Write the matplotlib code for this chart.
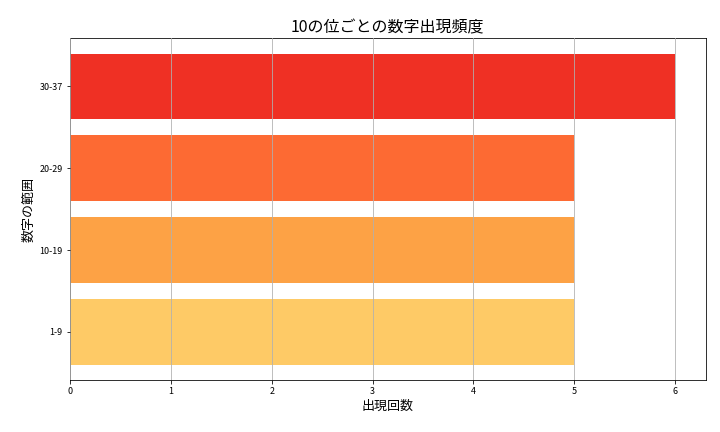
import matplotlib
matplotlib.use("Agg")
import matplotlib.pyplot as plt

plt.rcParams["font.family"] = ["Noto Sans CJK JP", "DejaVu Sans"]

categories = ["1-9", "10-19", "20-29", "30-37"]
counts = [5, 5, 5, 6]
colors = ["#FECA66", "#FDA245", "#FD6A33", "#EF3024"]

fig, ax = plt.subplots(figsize=(10, 6), dpi=72)
ax.barh(categories, counts, color=colors, height=0.8)
ax.set_title("10の位ごとの数字出現頻度", fontsize=16)
ax.set_xlabel("出現回数", fontsize=13)
ax.set_ylabel("数字の範囲", fontsize=13)
ax.grid(axis="x", color="#b0b0b0", linewidth=0.8)
ax.set_axisbelow(False)
ax.tick_params(labelsize=9)
plt.subplots_adjust(left=0.097, right=0.98, top=0.912, bottom=0.12)
fig.savefig("out.png")
